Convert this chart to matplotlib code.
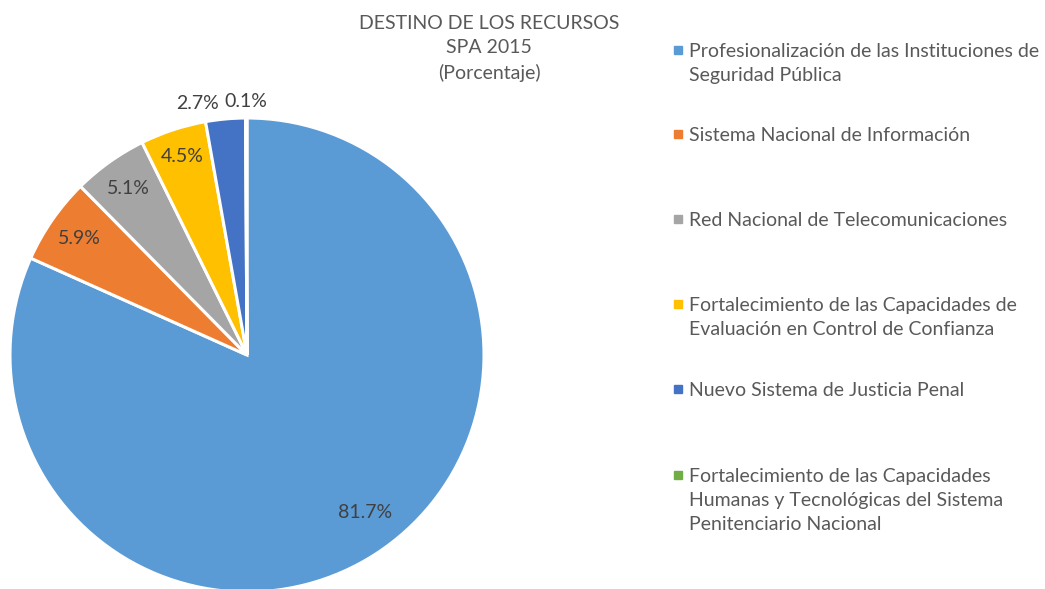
import numpy as np
import matplotlib
matplotlib.use('Agg')
import matplotlib.pyplot as plt
from matplotlib.patches import Rectangle

categorias = [
    'Profesionalización de las Instituciones de\nSeguridad Pública',
    'Sistema Nacional de Información',
    'Red Nacional de Telecomunicaciones',
    'Fortalecimiento de las Capacidades de\nEvaluación en Control de Confianza',
    'Nuevo Sistema de Justicia Penal',
    'Fortalecimiento de las Capacidades\nHumanas y Tecnológicas del Sistema\nPenitenciario Nacional',
]
porcentajes = [81.7, 5.9, 5.1, 4.5, 2.7, 0.1]
colores = ['#5B9BD5', '#ED7D31', '#A5A5A5', '#FFC000', '#4472C4', '#70AD47']

plt.rcParams['font.family'] = ['Lato', 'DejaVu Sans']
gris = '#595959'

W, H = 1045, 589
fig = plt.figure(figsize=(W / 100, H / 100), dpi=100)

# pie: centro (247,355) px, radio 237 px
cx, cy, R = 247, 355, 237
ax = fig.add_axes([(cx - R) / W, (H - cy - R) / H, 2 * R / W, 2 * R / H])
wedges, _ = ax.pie(porcentajes, colors=colores, startangle=90, counterclock=False,
                   wedgeprops=dict(edgecolor='white', linewidth=2.2), radius=1)
ax.set_xlim(-1, 1)
ax.set_ylim(-1, 1)
ax.set_aspect('equal')
ax.axis('off')

# etiquetas de porcentaje
dist = [0.83, 0.86, 0.86, 0.88, 1.08, 1.07]
nudge = [4, 0, 0, 0, 6, 0]  # grados
for w, p, d, n in zip(wedges, porcentajes, dist, nudge):
    ang = np.deg2rad((w.theta1 + w.theta2) / 2 + n)
    ax.text(d * np.cos(ang), d * np.sin(ang), f'{p:.1f}%', ha='center', va='center',
            fontsize=14, color='#404040', clip_on=False)

# titulo
fig.text(489 / W, 1 - 15 / H, 'DESTINO DE LOS RECURSOS\nSPA 2015\n(Porcentaje)',
         ha='center', va='top', fontsize=14, color=gris, linespacing=1.5)

# leyenda
ytops = [43, 127, 212, 297, 382, 468]
for lab, c, yt in zip(categorias, colores, ytops):
    fig.text(689 / W, 1 - yt / H, lab, ha='left', va='top', fontsize=14,
             color=gris, linespacing=1.5)
    fig.patches.append(Rectangle((674 / W, 1 - (yt + 11) / H), 8 / W, 8 / H,
                                 transform=fig.transFigure, color=c))

fig.savefig('out.png', dpi=100)
